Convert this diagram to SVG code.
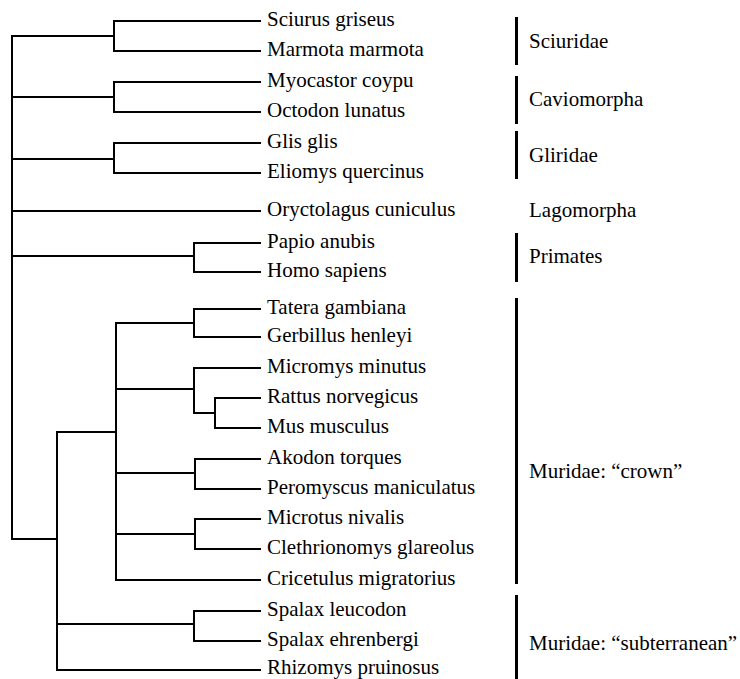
<svg xmlns="http://www.w3.org/2000/svg" width="740" height="679" viewBox="0 0 740 679">
<style>
  .t { font-family: "Liberation Serif", "Times New Roman", serif; font-size: 21px; fill: #000; }
  .e { stroke: #000; stroke-width: 2; fill: none; stroke-linecap: square; }
  .bar { fill: #000; }
</style>
<rect width="740" height="679" fill="#fff"/>
<g id="connectors" class="e">
  <!-- root -->
  <path d="M12,36 V539"/>
  <!-- Sciuridae -->
  <path d="M12,36 H114 M114,21 V51 M114,21 H260 M114,51 H260"/>
  <!-- Caviomorpha -->
  <path d="M12,97 H114 M114,82 V112 M114,82 H260 M114,112 H260"/>
  <!-- Gliridae -->
  <path d="M12,159 H114 M114,143 V173 M114,143 H260 M114,173 H260"/>
  <!-- Lagomorpha -->
  <path d="M12,211 H260"/>
  <!-- Primates -->
  <path d="M12,256 H194 M194,243 V272 M194,243 H260 M194,272 H260"/>
  <!-- Muridae -->
  <path d="M12,539 H57 M57,432 V670"/>
  <!-- crown -->
  <path d="M57,432 H116 M116,323 V580"/>
  <path d="M116,323 H194 M194,309 V337 M194,309 H260 M194,337 H260"/>
  <path d="M116,389 H194 M194,368 V413 M194,368 H260 M194,413 H215 M215,398 V428 M215,398 H260 M215,428 H260"/>
  <path d="M116,473 H195 M195,459 V489 M195,459 H260 M195,489 H260"/>
  <path d="M116,534 H195 M195,519 V549 M195,519 H260 M195,549 H260"/>
  <path d="M116,580 H260"/>
  <!-- subterranean -->
  <path d="M57,624 H194 M194,611 V641 M194,611 H260 M194,641 H260"/>
  <path d="M57,670 H260"/>
</g>
<g id="leaf-sciurus"><text class="t" x="267" y="26">Sciurus griseus</text></g>
<g id="leaf-marmota"><text class="t" x="267" y="56">Marmota marmota</text></g>
<g id="leaf-myocastor"><text class="t" x="267" y="87">Myocastor coypu</text></g>
<g id="leaf-octodon"><text class="t" x="267" y="117">Octodon lunatus</text></g>
<g id="leaf-glis"><text class="t" x="267" y="148">Glis glis</text></g>
<g id="leaf-eliomys"><text class="t" x="267" y="178">Eliomys quercinus</text></g>
<g id="leaf-oryctolagus"><text class="t" x="267" y="216">Oryctolagus cuniculus</text></g>
<g id="leaf-papio"><text class="t" x="267" y="248">Papio anubis</text></g>
<g id="leaf-homo"><text class="t" x="267" y="277">Homo sapiens</text></g>
<g id="leaf-tatera"><text class="t" x="267" y="314">Tatera gambiana</text></g>
<g id="leaf-gerbillus"><text class="t" x="267" y="342">Gerbillus henleyi</text></g>
<g id="leaf-micromys"><text class="t" x="267" y="373">Micromys minutus</text></g>
<g id="leaf-rattus"><text class="t" x="267" y="403">Rattus norvegicus</text></g>
<g id="leaf-mus"><text class="t" x="267" y="433">Mus musculus</text></g>
<g id="leaf-akodon"><text class="t" x="267" y="464">Akodon torques</text></g>
<g id="leaf-peromyscus"><text class="t" x="267" y="494">Peromyscus maniculatus</text></g>
<g id="leaf-microtus"><text class="t" x="267" y="524">Microtus nivalis</text></g>
<g id="leaf-clethrionomys"><text class="t" x="267" y="554">Clethrionomys glareolus</text></g>
<g id="leaf-cricetulus"><text class="t" x="267" y="585">Cricetulus migratorius</text></g>
<g id="leaf-spalax-l"><text class="t" x="267" y="616">Spalax leucodon</text></g>
<g id="leaf-spalax-e"><text class="t" x="267" y="646">Spalax ehrenbergi</text></g>
<g id="leaf-rhizomys"><text class="t" x="267" y="674">Rhizomys pruinosus</text></g>
<g id="group-sciuridae"><rect class="bar" x="515" y="17" width="3" height="48"/><text class="t" x="529" y="48">Sciuridae</text></g>
<g id="group-caviomorpha"><rect class="bar" x="515" y="76" width="3" height="48"/><text class="t" x="529" y="106">Caviomorpha</text></g>
<g id="group-gliridae"><rect class="bar" x="515" y="131" width="3" height="48"/><text class="t" x="529" y="162">Gliridae</text></g>
<g id="group-lagomorpha"><text class="t" x="529" y="217">Lagomorpha</text></g>
<g id="group-primates"><rect class="bar" x="515" y="233" width="3" height="49"/><text class="t" x="529" y="263">Primates</text></g>
<g id="group-crown"><rect class="bar" x="515" y="298" width="3" height="286"/><text class="t" x="529" y="478">Muridae: “crown”</text></g>
<g id="group-subterranean"><rect class="bar" x="515" y="595" width="3" height="84"/><text class="t" x="529" y="650">Muridae: “subterranean”</text></g>
</svg>
